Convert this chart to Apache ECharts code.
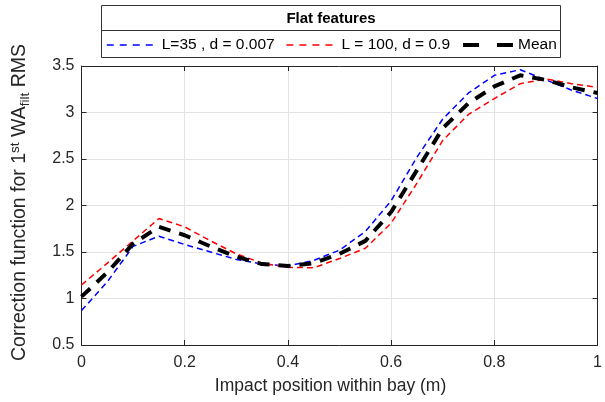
<!DOCTYPE html>
<html>
<head>
<meta charset="utf-8">
<script src="https://cdn.jsdelivr.net/npm/echarts@6/dist/echarts.min.js"></script>
<style>html,body{margin:0;padding:0;background:#fff;}#c{width:605px;height:402px;}</style>
</head>
<body>
<div id="c"></div>
<script>
var xValues = [0, 0.05, 0.1, 0.15, 0.2, 0.25, 0.3, 0.35, 0.4, 0.45, 0.5, 0.55, 0.6, 0.65, 0.7, 0.75, 0.8, 0.85, 0.9, 0.95, 1.0];
var blueL35 = [0.87, 1.18, 1.56, 1.67, 1.58, 1.50, 1.42, 1.37, 1.35, 1.41, 1.52, 1.72, 2.05, 2.52, 2.93, 3.21, 3.40, 3.46, 3.35, 3.24, 3.15];
var redL100 = [1.145, 1.38, 1.62, 1.86, 1.77, 1.62, 1.48, 1.38, 1.335, 1.33, 1.43, 1.54, 1.81, 2.24, 2.70, 2.98, 3.15, 3.31, 3.36, 3.31, 3.27];
var meanVals = [1.02, 1.28, 1.59, 1.77, 1.68, 1.56, 1.45, 1.37, 1.35, 1.38, 1.48, 1.62, 1.93, 2.38, 2.83, 3.10, 3.28, 3.40, 3.35, 3.27, 3.21];
var seriesNames = ['L=35 , d = 0.007', 'L = 100, d = 0.9', 'Mean'];
var legendTitle = 'Flat features';
var xTitle = 'Impact position within bay (m)';

function pairs(ys) { return xValues.map(function (x, i) { return [x, ys[i]]; }); }

var FONT = '"Liberation Sans", Arial, sans-serif';
var AX = '#262626';
var chart = echarts.init(document.getElementById('c'));
chart.setOption({
  animation: false,
  backgroundColor: '#ffffff',
  grid: { left: 79, right: 7, top: 66, bottom: 57, containLabel: false },
  graphic: [
    { type: 'rect', shape: { x: 101.5, y: 5.5, width: 459, height: 52 }, style: { fill: '#fff', stroke: '#333', lineWidth: 1 }, z: 0 },
    { type: 'line', shape: { x1: 101.5, y1: 30.5, x2: 560.5, y2: 30.5 }, style: { stroke: '#333', lineWidth: 1 }, z: 1 },
    { type: 'text', style: { text: legendTitle, x: 331, y: 19, align: 'center', verticalAlign: 'middle', font: 'bold 15px ' + FONT, fill: '#000' }, z: 2 }
  ],
  legend: {
    left: 106, top: 37, padding: 0, itemWidth: 50, itemHeight: 14, itemGap: 11,
    itemStyle: { opacity: 0, borderWidth: 0 },
    textStyle: { fontFamily: FONT, fontSize: 15.5, color: '#000' },
    data: [
      { name: seriesNames[0], lineStyle: { type: [7, 6], width: 1.5 } },
      { name: seriesNames[1], lineStyle: { type: [7, 6], width: 1.5 } },
      { name: seriesNames[2], lineStyle: { type: [16, 18], width: 4 } }
    ],
    z: 5
  },
  xAxis: [{
    type: 'value', min: 0, max: 1, interval: 0.2, position: 'bottom',
    name: xTitle, nameLocation: 'middle', nameGap: 32,
    nameTextStyle: { fontFamily: FONT, fontSize: 17.5, color: AX, padding: [0, 18, 0, 0] },
    axisLine: { show: true, onZero: false, lineStyle: { color: AX, width: 1 } },
    axisTick: { show: true, inside: true, length: 5, lineStyle: { color: AX } },
    axisLabel: { fontFamily: FONT, fontSize: 16, color: AX, margin: 10 },
    splitLine: { show: true, lineStyle: { color: '#e3e3e3', width: 1 } }
  }, {
    type: 'value', min: 0, max: 1, interval: 0.2, position: 'top',
    axisLine: { show: true, onZero: false, lineStyle: { color: AX, width: 1 } },
    axisTick: { show: true, inside: true, length: 5, lineStyle: { color: AX } },
    axisLabel: { show: false }, splitLine: { show: false }
  }],
  yAxis: [{
    type: 'value', min: 0.5, max: 3.5, interval: 0.5, position: 'left',
    name: 'Correction function for 1{sup|st} WA{sub|filt} RMS', nameLocation: 'middle', nameGap: 49, nameRotate: 90,
    nameTextStyle: { fontFamily: FONT, fontSize: 19.5, color: AX, padding: [0, 0, 0, 6],
      rich: {
        sup: { fontFamily: FONT, fontSize: 13.5, color: AX, padding: [0, 0, 10, 0] },
        sub: { fontFamily: FONT, fontSize: 13.5, color: AX, padding: [11, 0, 0, 0] }
      } },
    axisLine: { show: true, onZero: false, lineStyle: { color: AX, width: 1 } },
    axisTick: { show: true, inside: true, length: 5, lineStyle: { color: AX } },
    axisLabel: { fontFamily: FONT, fontSize: 16, color: AX, margin: 7 },
    splitLine: { show: true, lineStyle: { color: '#e3e3e3', width: 1 } }
  }, {
    type: 'value', min: 0.5, max: 3.5, interval: 0.5, position: 'right',
    axisLine: { show: true, onZero: false, lineStyle: { color: AX, width: 1 } },
    axisTick: { show: true, inside: true, length: 5, lineStyle: { color: AX } },
    axisLabel: { show: false }, splitLine: { show: false }
  }],
  series: [
    { name: seriesNames[0], type: 'line', data: pairs(blueL35), showSymbol: false, symbol: 'none', z: 3,
      itemStyle: { color: '#0000ff' },
      lineStyle: { color: '#0000ff', width: 1.5, type: [6, 4] } },
    { name: seriesNames[1], type: 'line', data: pairs(redL100), showSymbol: false, symbol: 'none', z: 3,
      itemStyle: { color: '#ff0000' },
      lineStyle: { color: '#ff0000', width: 1.5, type: [6, 4] } },
    { name: seriesNames[2], type: 'line', data: pairs(meanVals), showSymbol: false, symbol: 'none', z: 4,
      itemStyle: { color: '#000000' },
      lineStyle: { color: '#000000', width: 4, type: [12, 9] } }
  ]
});
</script>
</body>
</html>
